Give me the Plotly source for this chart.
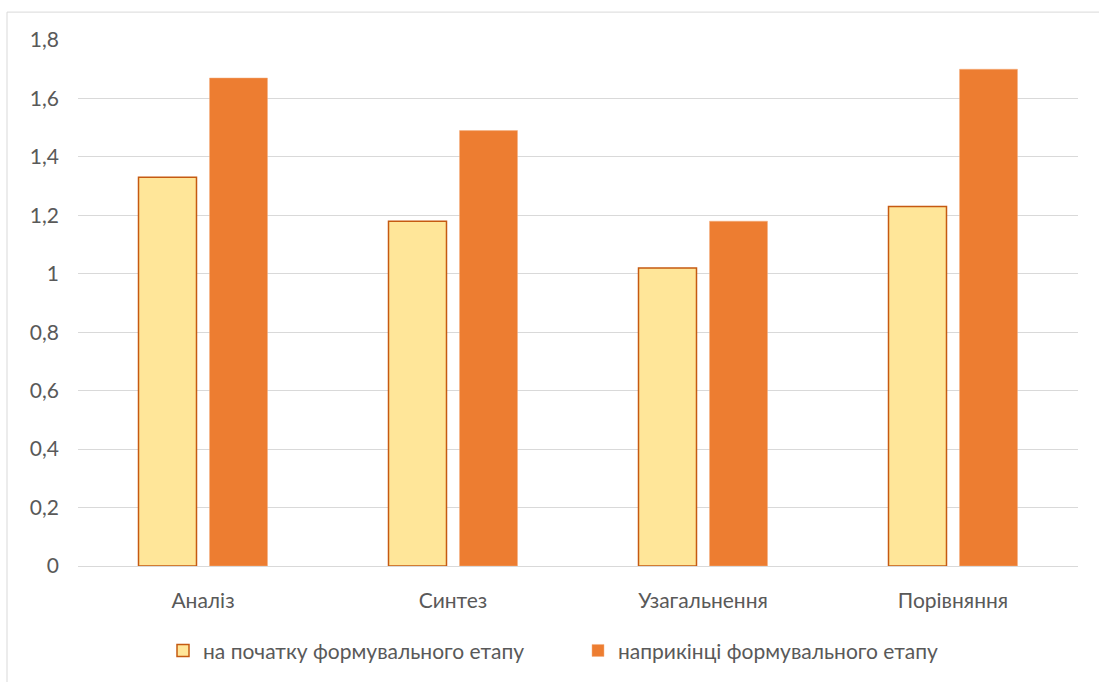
import plotly.graph_objects as go

categories = ["Аналіз", "Синтез", "Узагальнення", "Порівняння"]
start_values = [1.33, 1.18, 1.02, 1.23]
end_values = [1.67, 1.49, 1.18, 1.70]
series_names = ["на початку формувального етапу", "наприкінці формувального етапу"]
y_ticks = [0, 0.2, 0.4, 0.6, 0.8, 1.0, 1.2, 1.4, 1.6, 1.8]

text_color = "#595959"
font_family = "Lato, Open Sans, sans-serif"

fig = go.Figure()
fig.add_trace(go.Bar(
    x=categories, y=start_values, name=series_names[0],
    marker=dict(color="#FFE699", line=dict(color="#C55A11", width=1.5)),
))
fig.add_trace(go.Bar(
    x=categories, y=end_values, name=series_names[1],
    marker=dict(color="#ED7D31", line=dict(color="#F4B183", width=0.5)),
))

fig.update_layout(
    width=1099, height=682,
    margin=dict(l=78, r=21, t=40, b=115),
    paper_bgcolor="white", plot_bgcolor="white",
    separators=", ",
    barmode="group", bargap=0.432, bargroupgap=0.183,
    font=dict(family=font_family, size=21, color=text_color),
    showlegend=True,
    legend=dict(orientation="h", x=0.5, xanchor="center", y=-0.159, yanchor="middle",
                font=dict(size=21, color=text_color), itemwidth=30,
                entrywidth=370, entrywidthmode="pixels",
                traceorder="normal"),
    xaxis=dict(showgrid=False, showline=True, linecolor="#D9D9D9", linewidth=1,
               ticks="", ticklabelstandoff=16, tickfont=dict(size=21, color=text_color)),
    yaxis=dict(range=[0, 1.8], tickvals=y_ticks, showgrid=True, gridcolor="#D9D9D9",
               gridwidth=1, zeroline=False, showline=False, ticks="",
               ticklabelstandoff=18, tickfont=dict(size=21, color=text_color)),
    shapes=[dict(type="rect", xref="paper", yref="paper",
                 x0=-0.071, x1=1.05, y0=-0.3, y1=1.053,
                 line=dict(color="#D9D9D9", width=1), fillcolor="rgba(0,0,0,0)",
                 layer="below")],
)

fig.write_html("out.html")
